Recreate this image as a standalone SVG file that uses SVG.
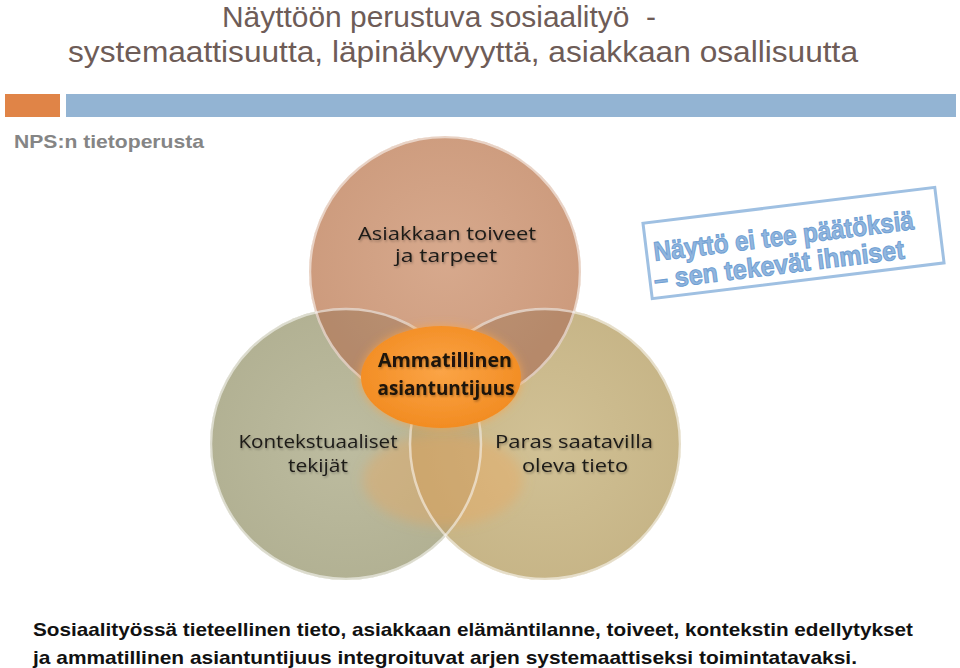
<svg xmlns="http://www.w3.org/2000/svg" width="960" height="668" viewBox="0 0 960 668">
<defs>
<style>
.title{font-family:"Liberation Sans",Arial,sans-serif;font-size:29px;fill:#6e5c57}
.lbl{font-family:"Open Sans","Liberation Sans",sans-serif;font-size:17.5px;fill:#1c1a18;text-anchor:middle}
.lblb{font-family:"Open Sans","Liberation Sans",sans-serif;font-size:19px;font-weight:bold;fill:#1c1208;text-anchor:middle}
.bot{font-family:"Liberation Sans",Arial,sans-serif;font-size:19px;font-weight:bold;fill:#111}
.stamp{font-family:"Liberation Sans",Arial,sans-serif;font-size:27px;font-weight:900;fill:#92b6de;stroke:#6f9fd3;stroke-width:1}
.rim{fill:none;stroke:#ffffff;stroke-opacity:0.55;stroke-width:2.5}
</style>
<radialGradient id="gTop" cx="50%" cy="45%" r="55%">
<stop offset="0" stop-color="#d7a98d"/><stop offset="1" stop-color="#cc9a7c"/>
</radialGradient>
<radialGradient id="gLeft" cx="50%" cy="50%" r="55%">
<stop offset="0" stop-color="#bdbca0"/><stop offset="1" stop-color="#b1b092"/>
</radialGradient>
<radialGradient id="gRight" cx="50%" cy="50%" r="55%">
<stop offset="0" stop-color="#d1c195"/><stop offset="1" stop-color="#c6b486"/>
</radialGradient>
<radialGradient id="gCore" cx="50%" cy="45%" r="55%">
<stop offset="0" stop-color="#fba446"/><stop offset="1" stop-color="#f28c22"/>
</radialGradient>
<clipPath id="cTop"><circle cx="445" cy="272" r="136"/></clipPath>
<clipPath id="cLeft"><circle cx="346" cy="444" r="136"/></clipPath>
<filter id="glow" x="-30%" y="-30%" width="160%" height="160%">
<feGaussianBlur in="SourceAlpha" stdDeviation="5" result="b"/>
<feFlood flood-color="#f9a54a" flood-opacity="0.8"/>
<feComposite in2="b" operator="in" result="g"/>
<feMerge><feMergeNode in="g"/><feMergeNode in="SourceGraphic"/></feMerge>
</filter>
<filter id="blur" x="-30%" y="-30%" width="160%" height="160%">
<feGaussianBlur stdDeviation="6"/>
</filter>
<filter id="ts" x="-10%" y="-30%" width="120%" height="160%">
<feDropShadow dx="1" dy="1.5" stdDeviation="1" flood-color="#000" flood-opacity="0.3"/>
</filter>
</defs>
<rect width="960" height="668" fill="#ffffff"/>

<g id="title">
<text class="title" x="222" y="27" textLength="434" lengthAdjust="spacingAndGlyphs" xml:space="preserve">Näyttöön perustuva sosiaalityö  -</text>
<text class="title" x="68" y="62" textLength="790" lengthAdjust="spacingAndGlyphs">systemaattisuutta, läpinäkyvyyttä, asiakkaan osallisuutta</text>
</g>

<g id="bars">
<rect x="5" y="94" width="55" height="23" fill="#e08447"/>
<rect x="66" y="94" width="890" height="23" fill="#93b4d3"/>
</g>

<text id="subtitle" x="14" y="148" font-family="'Liberation Sans',Arial,sans-serif" font-size="19" font-weight="bold" fill="#858585" textLength="190" lengthAdjust="spacingAndGlyphs">NPS:n tietoperusta</text>

<g id="venn">
<g id="circle-left"><circle cx="346" cy="444" r="136" fill="url(#gLeft)"/></g>
<g id="circle-right"><circle cx="545" cy="444" r="136" fill="url(#gRight)"/></g>
<g id="circle-top"><circle cx="445" cy="272" r="136" fill="url(#gTop)"/></g>
<g id="overlaps">
<g clip-path="url(#cTop)">
<circle cx="346" cy="444" r="136" fill="#5a4a2a" fill-opacity="0.22"/>
<circle cx="545" cy="444" r="136" fill="#5a4220" fill-opacity="0.2"/>
</g>
<g clip-path="url(#cLeft)">
<circle cx="545" cy="444" r="136" fill="#6a5530" fill-opacity="0.14"/>
</g>
</g>
<ellipse cx="443" cy="480" rx="80" ry="46" fill="#f1a455" fill-opacity="0.35" filter="url(#blur)"/>
<circle class="rim" cx="346" cy="444" r="135"/>
<circle class="rim" cx="545" cy="444" r="135"/>
<circle class="rim" cx="445" cy="272" r="135"/>
<g id="core">
<ellipse cx="441" cy="377" rx="80" ry="51" fill="url(#gCore)" filter="url(#glow)"/>
</g>
<g id="labels" filter="url(#ts)">
<text class="lbl" x="447" y="240" textLength="178" lengthAdjust="spacingAndGlyphs">Asiakkaan toiveet</text>
<text class="lbl" x="446" y="262" textLength="102" lengthAdjust="spacingAndGlyphs">ja tarpeet</text>
<text class="lblb" x="445" y="367" textLength="134" lengthAdjust="spacingAndGlyphs">Ammatillinen</text>
<text class="lblb" x="446" y="395" textLength="137" lengthAdjust="spacingAndGlyphs">asiantuntijuus</text>
<text class="lbl" x="318" y="448" textLength="159" lengthAdjust="spacingAndGlyphs">Kontekstuaaliset</text>
<text class="lbl" x="318" y="472" textLength="60" lengthAdjust="spacingAndGlyphs">tekijät</text>
<text class="lbl" x="574" y="448" textLength="158" lengthAdjust="spacingAndGlyphs">Paras saatavilla</text>
<text class="lbl" x="575" y="472" textLength="106" lengthAdjust="spacingAndGlyphs">oleva tieto</text>
</g>
</g>

<g id="stamp" transform="translate(794,247) rotate(-7)">
<rect x="-147" y="-42" width="294" height="76" fill="#ffffff" stroke="#9fc0e2" stroke-width="3"/>
<text class="stamp" x="-140" y="-3" textLength="262" lengthAdjust="spacingAndGlyphs">Näyttö ei tee päätöksiä</text>
<text class="stamp" x="-143" y="25" textLength="252" lengthAdjust="spacingAndGlyphs">– sen tekevät ihmiset</text>
</g>

<g id="caption">
<text class="bot" x="33" y="636" textLength="880" lengthAdjust="spacingAndGlyphs">Sosiaalityössä tieteellinen tieto, asiakkaan elämäntilanne, toiveet, kontekstin edellytykset</text>
<text class="bot" x="33" y="664" textLength="824" lengthAdjust="spacingAndGlyphs">ja ammatillinen asiantuntijuus integroituvat arjen systemaattiseksi toimintatavaksi.</text>
</g>
</svg>
